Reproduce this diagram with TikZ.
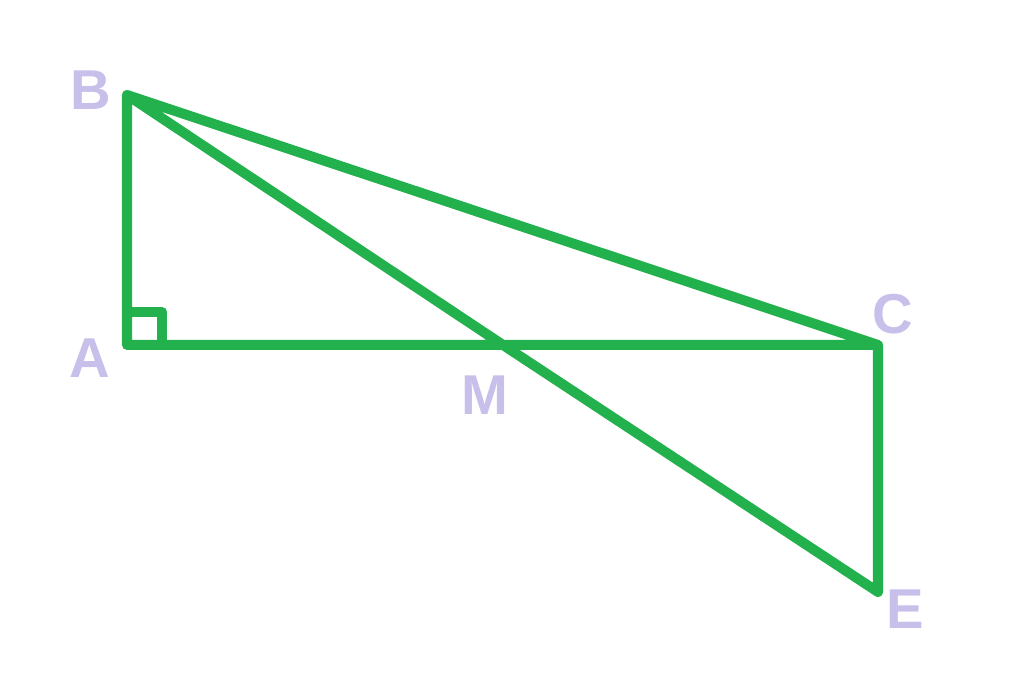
\documentclass[tikz,border=0pt]{standalone}
\usepackage{fontspec}
\setmainfont{Liberation Sans}
\definecolor{segGreen}{HTML}{22B14C}
\definecolor{ptLabel}{HTML}{C8C0EA}

\begin{document}
\begin{tikzpicture}[seg/.style={draw=segGreen, line width=2.85pt, line join=round, line cap=round},
    lbl/.style={text=ptLabel, font=\fontsize{16}{16}\selectfont\bfseries, inner sep=0pt},]
        \useasboundingbox (0,0) rectangle (10.24,6.90);
        \coordinate (B) at (1.27,5.95);
        \coordinate (A) at (1.27,3.45);
        \coordinate (C) at (8.78,3.45);
        \coordinate (E) at (8.78,0.98);
        \coordinate (M) at (5.03,3.45);
        \node[lbl] (labB) at (0.91,6.00) {B};
        \node[lbl] (labA) at (0.90,3.32) {A};
        \node[lbl] (labC) at (8.93,3.76) {C};
        \node[lbl] (labM) at (4.85,2.95) {M};
        \node[lbl] (labE) at (9.05,0.81) {E};
        \draw[seg] (B) -- (A) -- (M) -- (C) -- (E) -- (M) -- (B) -- (C);
        \draw[seg] (A) ++ (0,0.33) -- ++(0.35,0) -- ++(0,-0.33);
      \end{tikzpicture}
\end{document}
